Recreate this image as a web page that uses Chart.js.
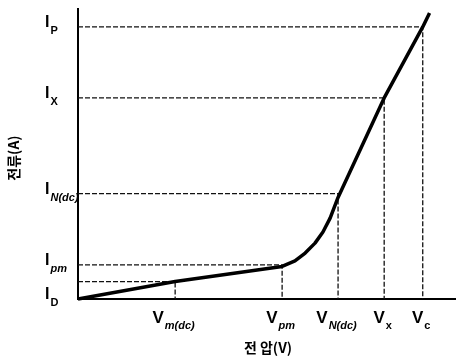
<!DOCTYPE html>
<html>
<head>
<meta charset="utf-8">
<script src="https://cdn.jsdelivr.net/npm/chart.js@4/dist/chart.umd.min.js"></script>
<style>
  html, body { margin: 0; padding: 0; background: #fff; }
  #wrap { width: 456px; height: 360px; }
</style>
</head>
<body>
<div id="wrap"><canvas id="ivChart" width="456" height="360"></canvas></div>
<script>
// I-V curve (arbitrary units, 0..100 on both axes)
var curveV = [0, 25.7, 54.0, 57.4, 60.1, 62.7, 64.8, 66.7, 68.8, 81.0, 91.2, 93.0];
var curveI = [0, 6.0, 11.2, 13.1, 15.8, 19.2, 23.0, 27.8, 34.9, 69.1, 93.5, 98.3];

// marked operating points (voltage / current pairs)
var vNames = ['m(dc)', 'pm', 'N(dc)', 'x', 'c'];
var vValues = [25.7, 54.0, 68.8, 81.0, 91.2];
var iNames = ['', 'pm', 'N(dc)', 'X', 'P'];
var iValues = [6.0, 11.7, 36.2, 69.1, 93.5];

var xTitle = '전 압(V)';
var yTitle = '전류(A)';

var curve = curveV.map(function (v, k) { return { x: v, y: curveI[k] }; });

var datasets = [];
datasets.push({
    data: curve,
    borderColor: '#000',
    borderWidth: 3.5,
    pointRadius: 0,
    tension: 0,
    borderJoinStyle: 'round',
    clip: false
});

// dashed guide lines to each point
for (var k = 0; k < vValues.length; k++) {
    datasets.push({
        data: [{ x: 0, y: iValues[k] }, { x: vValues[k], y: iValues[k] }, { x: vValues[k], y: 0 }],
        borderColor: '#111',
        borderWidth: 1.3,
        borderDash: [5, 2],
        pointRadius: 0,
        tension: 0,
        clip: false
    });
}

// axes
datasets.push({
    data: [{ x: 0, y: 100 }, { x: 0, y: 0 }, { x: 100, y: 0 }],
    borderColor: '#000',
    borderWidth: 2,
    pointRadius: 0,
    tension: 0,
    clip: false
});

var labelPlugin = {
    id: 'labels',
    afterDraw: function (chart) {
        var c = chart.ctx;
        var xs = chart.scales.x, ys = chart.scales.y;
        c.save();
        c.fillStyle = '#000';
        c.textBaseline = 'alphabetic';

        // current labels on the left
        var iLabels = iNames.concat(['D']);
        var iPos = iValues.concat([0]);
        for (var k = 0; k < iLabels.length; k++) {
            if (!iLabels[k]) continue;
            var py = ys.getPixelForValue(iPos[k]);
            var italic = (iLabels[k] === 'pm' || iLabels[k] === 'N(dc)');
            c.font = 'bold 16px "Liberation Sans", Arial, sans-serif';
            var wI = c.measureText('I').width;
            c.font = (italic ? 'italic ' : '') + 'bold 11px "Liberation Sans", Arial, sans-serif';
            var wS = c.measureText(iLabels[k]).width;
            var lx = Math.min(45, 78 - wI - wS);
            c.font = 'bold 16px "Liberation Sans", Arial, sans-serif';
            c.textAlign = 'left';
            c.fillText('I', lx, py);
            c.font = (italic ? 'italic ' : '') + 'bold 11px "Liberation Sans", Arial, sans-serif';
            c.fillText(iLabels[k], lx + wI + 1, py + 7);
        }

        // voltage labels under the axis
        for (var j = 0; j < vNames.length; j++) {
            var px = xs.getPixelForValue(vValues[j]);
            var it = (vNames[j] === 'm(dc)' || vNames[j] === 'pm' || vNames[j] === 'N(dc)');
            c.font = 'bold 17px "Liberation Sans", Arial, sans-serif';
            var wV = c.measureText('V').width;
            c.font = (it ? 'italic ' : '') + 'bold 11px "Liberation Sans", Arial, sans-serif';
            var wSub = c.measureText(vNames[j]).width;
            var left = px - (wV + wSub) / 2 - 2;
            c.font = 'bold 17px "Liberation Sans", Arial, sans-serif';
            c.textAlign = 'left';
            c.fillText('V', left, 323);
            c.font = (it ? 'italic ' : '') + 'bold 11px "Liberation Sans", Arial, sans-serif';
            c.fillText(vNames[j], left + wV + 1, 329);
        }

        // axis titles
        c.font = 'bold 14px "Noto Sans CJK KR", sans-serif';
        c.textAlign = 'center';
        c.textBaseline = 'middle';
        c.fillText(xTitle, 268, 348);
        c.translate(14, 158);
        c.rotate(-Math.PI / 2);
        c.fillText(yTitle, 0, 0);
        c.restore();
    }
};

var ctx = document.getElementById('ivChart').getContext('2d');
var chart = new Chart(ctx, {
    type: 'line',
    data: { datasets: datasets },
    options: {
        responsive: false,
        animation: false,
        layout: { padding: { left: 78, right: 0, top: 8, bottom: 61 } },
        plugins: { legend: { display: false }, tooltip: { enabled: false } },
        scales: {
            x: { type: 'linear', min: 0, max: 100, display: false },
            y: { type: 'linear', min: 0, max: 100, display: false }
        }
    },
    plugins: [labelPlugin]
});
</script>
</body>
</html>
